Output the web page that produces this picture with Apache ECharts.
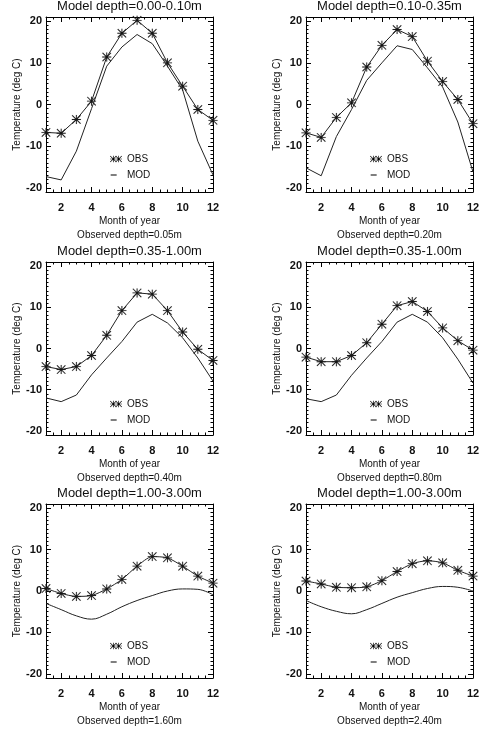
<!DOCTYPE html>
<html>

<head>
    <meta charset="utf-8">
    <title></title>
    <script src="https://cdn.jsdelivr.net/npm/echarts@6/dist/echarts.min.js"></script>
    <style>
        body { margin: 0; background: #fff; }
        #chart { width: 488px; height: 732px; }
    </style>
</head>

<body>
    <div id="chart"></div>
    <script>
    // months and tick positions
    var months = [1, 2, 3, 4, 5, 6, 7, 8, 9, 10, 11, 12];
    var xMajor = [2, 4, 6, 8, 10, 12];
    var xMinor = [1.5, 2.5, 3, 3.5, 4.5, 5, 5.5, 6.5, 7, 7.5, 8.5, 9, 9.5, 10.5, 11, 11.5];
    var yMajor = [-20, -10, 0, 10, 20];
    var yMinor = [-19, -18, -17, -16, -15, -14, -13, -12, -11, -9, -8, -7, -6, -5, -4, -3, -2, -1,
        1, 2, 3, 4, 5, 6, 7, 8, 9, 11, 12, 13, 14, 15, 16, 17, 18, 19];

    // panel labels
    var modelDepths = ['0.00-0.10m', '0.10-0.35m', '0.35-1.00m', '0.35-1.00m', '1.00-3.00m', '1.00-3.00m'];
    var obsDepths = ['0.05m', '0.20m', '0.40m', '0.80m', '1.60m', '2.40m'];

    // observed temperature (asterisks)
    var obs1 = [-6.7, -6.9, -3.6, 0.8, 11.4, 17.1, 20.2, 17.1, 10.0, 4.4, -1.2, -3.8];
    var obs2 = [-6.8, -7.9, -3.1, 0.4, 9.0, 14.2, 18.0, 16.3, 10.4, 5.5, 1.2, -4.6];
    var obs3 = [-4.4, -5.1, -4.4, -1.7, 3.2, 9.2, 13.5, 13.2, 9.2, 4.0, -0.2, -2.9];
    var obs4 = [-2.1, -3.2, -3.2, -1.7, 1.4, 5.9, 10.4, 11.4, 9.0, 5.0, 1.9, -0.4];
    var obs5 = [0.6, -0.6, -1.3, -1.1, 0.5, 2.8, 6.0, 8.3, 8.0, 6.0, 3.6, 1.9];
    var obs6 = [2.4, 1.7, 0.9, 0.8, 1.0, 2.5, 4.7, 6.6, 7.3, 6.8, 5.0, 3.6];

    // model temperature (plain line)
    var mod1 = [-17.3, -18.1, -11.2, -1.0, 9.2, 13.8, 16.8, 14.6, 9.2, 3.5, -8.8, -16.9];
    var mod2 = [-15.2, -17.1, -7.7, -1.2, 5.8, 10.0, 14.1, 13.2, 8.8, 4.2, -4.2, -16.2];
    var mod3 = [-12.0, -12.9, -11.3, -6.4, -2.3, 1.7, 6.4, 8.3, 6.2, 2.6, -2.3, -7.9];
    var mod4 = [-12.2, -12.9, -11.3, -6.5, -2.3, 1.7, 6.4, 8.3, 6.4, 2.6, -2.6, -8.4];
    var mod5 = [-3.0, -4.5, -6.0, -6.8, -5.6, -3.8, -2.3, -1.1, 0.0, 0.5, 0.4, -0.9];
    var mod6 = [-2.3, -3.8, -4.9, -5.5, -4.5, -3.0, -1.5, -0.4, 0.6, 1.1, 0.9, 0.0];

    var obsAll = [obs1, obs2, obs3, obs4, obs5, obs6];
    var modAll = [mod1, mod2, mod3, mod4, mod5, mod6];

    var font = 'Liberation Sans, Arial, sans-serif';
    var ink = '#111';

    // asterisk symbol built from thin filled strokes
    var star = 'M0 4.5H10V5.5H0Z M4.5 0H5.5V10H4.5Z M0.7 0L10 9.3L9.3 10L0 0.7Z M9.3 0L10 0.7L0.7 10L0 9.3Z';
    var starIcon = 'path://' + star + ' M8 4.5H18V5.5H8Z M12.5 0H13.5V10H12.5Z M8.7 0L18 9.3L17.3 10L8 0.7Z M17.3 0L18 0.7L8.7 10L8 9.3Z';
    var dashIcon = 'path://M0 0L0.05 0L0 0.05Z M18 10L17.95 10L18 9.95Z M1 4.3H10V5.7H1Z';

    var cols = [46, 306];
    var rows = [17, 262, 504];
    var heights = [175, 173, 174];
    var W = 167;

    function pairs(vals) {
        return months.map(function (m, i) { return [m, vals[i]]; });
    }

    // every axis gets its own fresh objects
    function tickOnly(g, dim, pos, vals, len, line, zeroOff) {
        var axisLine = { show: line, lineStyle: { color: '#000', width: 1 } };
        if (zeroOff && dim === 'x') axisLine.onZero = false;
        return {
            type: 'value', gridIndex: g, position: pos,
            min: dim === 'x' ? 1 : -21, max: dim === 'x' ? 12 : 21,
            splitLine: { show: false },
            axisLabel: { show: false },
            axisLine: axisLine,
            axisTick: { show: true, inside: true, length: len, customValues: vals.slice(), lineStyle: { color: '#000' } }
        };
    }

    function buildOption(zeroOff) {
        var grid = [], xAxis = [], yAxis = [], series = [], title = [], legend = [];
        for (var g = 0; g < 6; g++) {
            var left = cols[g % 2];
            var top = rows[Math.floor(g / 2)];
            var h = heights[Math.floor(g / 2)];
            grid.push({ left: left, top: top, width: W, height: h });

            var xi = xAxis.length, yi = yAxis.length;
            var xm = tickOnly(g, 'x', 'bottom', xMajor, 5, true, zeroOff);
            xm.axisLabel = { show: true, customValues: xMajor.slice(), margin: 10, fontSize: 11, fontWeight: 'bold', color: ink, fontFamily: font };
            xm.name = 'Month of year';
            xm.nameLocation = 'middle';
            xm.nameGap = 24;
            xm.nameTextStyle = { fontSize: 10, color: ink, fontFamily: font };
            xAxis.push(xm);

            var ym = tickOnly(g, 'y', 'left', yMajor, 5, true, zeroOff);
            ym.axisLabel = { show: true, customValues: yMajor.slice(), margin: 4, fontSize: 11, fontWeight: 'bold', color: ink, fontFamily: font };
            ym.name = 'Temperature (deg C)';
            ym.nameLocation = 'middle';
            ym.nameGap = 24;
            ym.nameTextStyle = { fontSize: 10, color: ink, fontFamily: font };
            yAxis.push(ym);

            xAxis.push(tickOnly(g, 'x', 'top', xMajor, 5, true, zeroOff));
            yAxis.push(tickOnly(g, 'y', 'right', yMajor, 5, true, zeroOff));
            xAxis.push(tickOnly(g, 'x', 'bottom', xMinor, 2.5, false, zeroOff));
            xAxis.push(tickOnly(g, 'x', 'top', xMinor, 2.5, false, zeroOff));
            yAxis.push(tickOnly(g, 'y', 'left', yMinor, 2.5, false, zeroOff));
            yAxis.push(tickOnly(g, 'y', 'right', yMinor, 2.5, false, zeroOff));

            title.push({
                text: 'Model depth=' + modelDepths[g],
                left: left + W / 2, top: top - 17, textAlign: 'center', padding: 0,
                textStyle: { fontSize: 13, fontWeight: 'normal', color: ink, fontFamily: font }
            });
            title.push({
                text: 'Observed depth=' + obsDepths[g],
                left: left + W / 2, top: top + h + 38, textAlign: 'center', padding: 0,
                textStyle: { fontSize: 10, fontWeight: 'normal', color: ink, fontFamily: font }
            });

            legend.push({
                orient: 'vertical', left: left + 64, top: top + 137, padding: 0,
                itemWidth: 12, itemHeight: 7, itemGap: 6, selectedMode: false,
                textStyle: { fontSize: 10, color: ink, fontFamily: font },
                data: [
                    { name: 'OBS', icon: starIcon, itemStyle: { color: '#000', borderWidth: 0 } },
                    { name: 'MOD', icon: dashIcon, itemStyle: { color: '#000', borderWidth: 0 } }
                ]
            });

            var bottomRow = g >= 4;
            series.push({
                name: 'OBS', type: 'line', xAxisIndex: xi, yAxisIndex: yi,
                data: pairs(obsAll[g]),
                symbol: 'path://' + star, symbolSize: 9,
                itemStyle: { color: '#222', borderColor: 'rgba(0,0,0,0.2)', borderWidth: 0.5 },
                lineStyle: { color: '#222', width: 1 },
                smooth: bottomRow ? 0.25 : false
            });
            series.push({
                name: 'MOD', type: 'line', xAxisIndex: xi, yAxisIndex: yi,
                data: pairs(modAll[g]),
                showSymbol: false, symbol: 'none',
                itemStyle: { color: '#000' },
                lineStyle: { color: '#222', width: 1 },
                smooth: bottomRow ? 0.4 : false
            });
        }
        return { animation: false, title: title, legend: legend, grid: grid, xAxis: xAxis, yAxis: yAxis, series: series };
    }

    var el = document.getElementById('chart');
    var myChart = null;
    var modes = [true, false];
    for (var t = 0; t < modes.length; t++) {
        try {
            myChart = echarts.init(el);
            myChart.setOption(buildOption(modes[t]));
            break;
        } catch (e) {
            if (myChart) myChart.dispose();
            myChart = null;
        }
    }
    addEventListener('resize', function () {
        if (myChart) myChart.resize();
    });
    </script>
</body>

</html>
